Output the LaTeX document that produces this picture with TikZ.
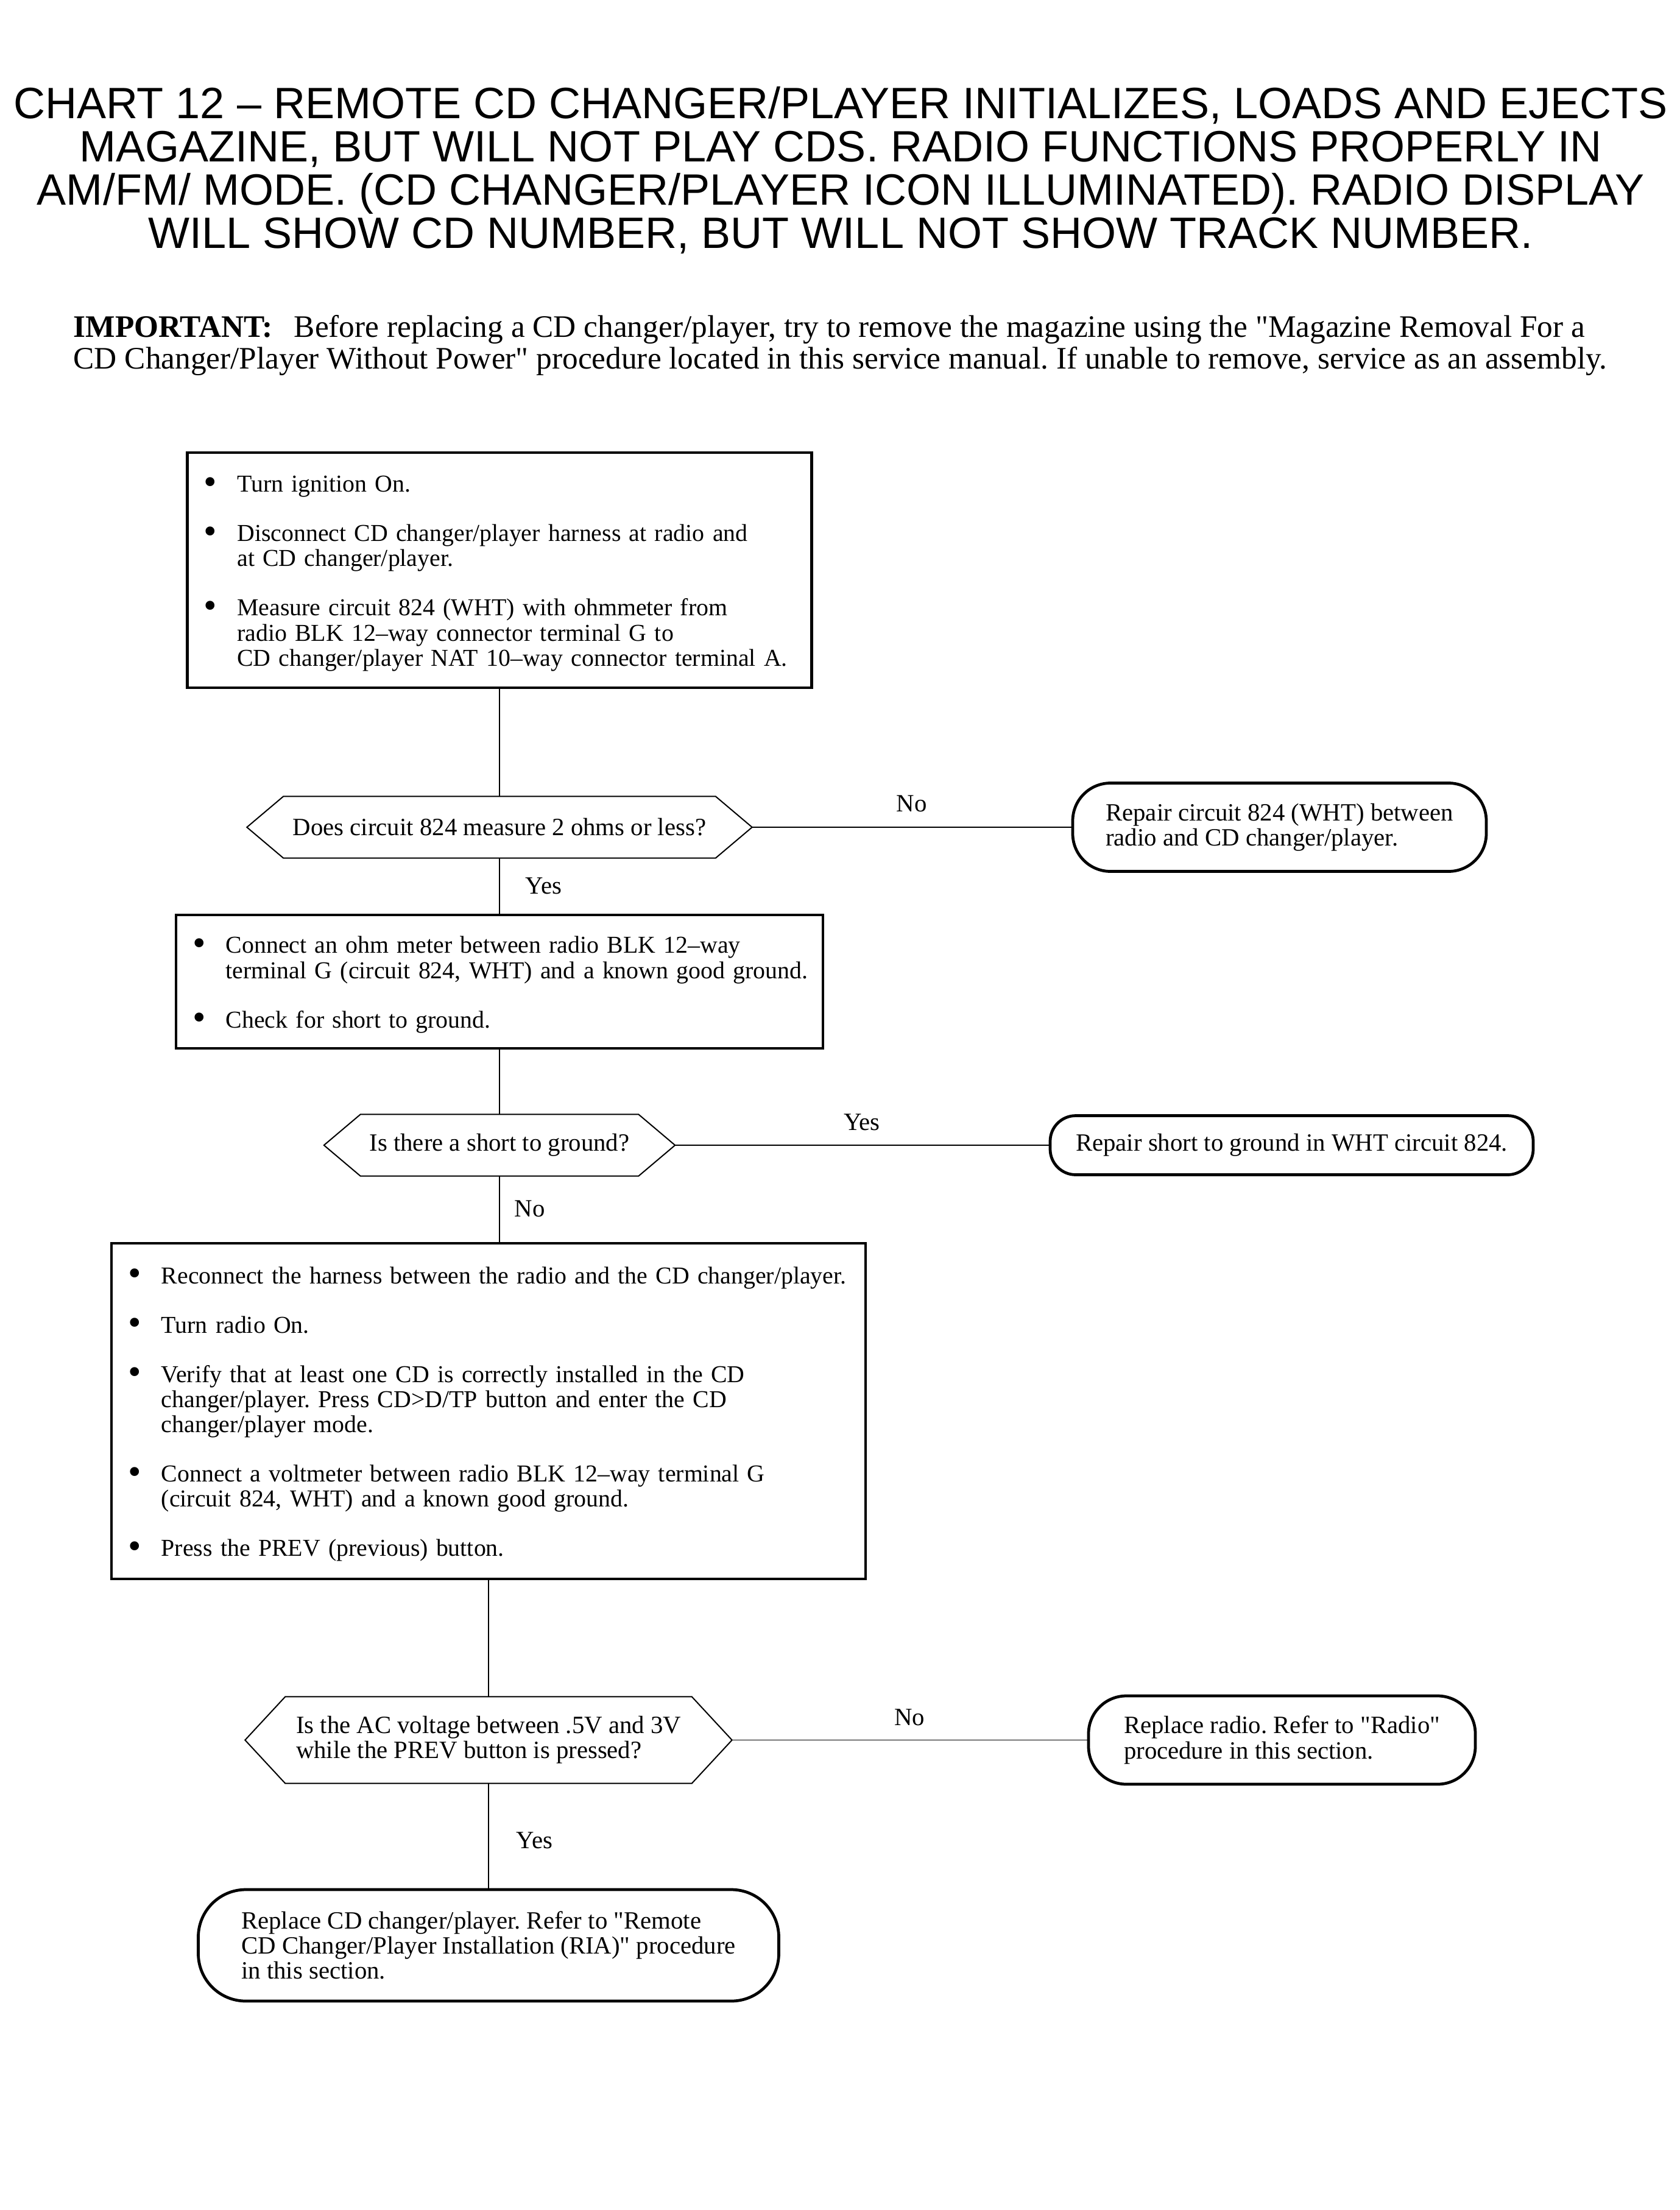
\documentclass[tikz,border=0pt]{standalone}
\usepackage{fontspec}
\setmainfont{Liberation Serif}
\newfontfamily\headfont{Liberation Sans}
\usetikzlibrary{positioning, calc}
\frenchspacing

\newlength{\bulletwd}
\setlength{\bulletwd}{15.6pt}
% one bullet point, lines split by hand
\newcommand{\bitem}[1]{\par\noindent\makebox[\bulletwd][l]{\raisebox{-1pt}{\fontsize{17.5pt}{17.5pt}\selectfont\textbullet}}%
  \begin{tabular}[t]{@{}l@{}}#1\end{tabular}\par}
\newcommand{\qq}{\textquotedbl}

\begin{document}
\begin{tikzpicture}[
    txt/.style={font=\fontsize{11.6pt}{11.75pt}\selectfont},
    stepbox/.style={font=\fontsize{11.33pt}{11.75pt}\selectfont, draw, line width=1.28pt,
      inner xsep=0.27cm, inner ysep=0pt, align=left,
      execute at begin node={\setlength{\parskip}{11.3pt}\setlength{\lineskip}{0pt}\vspace*{-\parskip}}},
    query/.style={txt, inner sep=0pt, align=left},
    endbox/.style={txt, draw, line width=1.35pt, inner sep=0pt, align=left},
    lbl/.style={txt, inner sep=0pt},
    link/.style={line width=0.45pt}
  ]
  \useasboundingbox (0,0) rectangle (27.58,-36.28);

  % heading
  \node[font=\headfont\fontsize{20.5pt}{20.2pt}\selectfont, align=center, inner sep=0pt, anchor=north]
    (title) at (13.80,-1.42) {CHART 12 – REMOTE CD CHANGER/PLAYER INITIALIZES, LOADS AND EJECTS\\
    MAGAZINE, BUT WILL NOT PLAY CDS. RADIO FUNCTIONS PROPERLY IN\\
    AM/FM/ MODE. (CD CHANGER/PLAYER ICON ILLUMINATED). RADIO DISPLAY\\
    WILL SHOW CD NUMBER, BUT WILL NOT SHOW TRACK NUMBER.};
  \node[font=\fontsize{14.6pt}{14.8pt}\selectfont, align=left, inner sep=0pt, anchor=north west]
    (note) at (1.20,-5.17) {\textbf{IMPORTANT:}\hspace{10pt}Before replacing a CD changer/player, try to remove the magazine using the \qq Magazine Removal For a\\
    CD Changer/Player Without Power\qq{} procedure located in this service manual. If unable to remove, service as an assembly.};

  % steps
  \node[stepbox, text width=9.71cm, minimum height=3.86cm] (chk1) at (8.20,-9.36) {%
    \bitem{Turn ignition On.}
    \bitem{Disconnect CD changer/player harness at radio and\\at CD changer/player.}
    \bitem{Measure circuit 824 (WHT) with ohmmeter from\\radio BLK 12–way connector terminal G to\\CD changer/player NAT 10–way connector terminal A.}};
  \node[stepbox, text width=10.08cm, minimum height=2.19cm] (chk2) at (8.20,-16.115) {%
    \bitem{Connect an ohm meter between radio BLK 12–way\\terminal G (circuit 824, WHT) and a known good ground.}
    \bitem{Check for short to ground.}};
  \node[stepbox, text width=11.84cm, minimum height=5.51cm] (chk3) at (8.02,-23.165) {%
    \bitem{Reconnect the harness between the radio and the CD changer/player.}
    \bitem{Turn radio On.}
    \bitem{Verify that at least one CD is correctly installed in the CD\\changer/player. Press CD>D/TP button and enter the CD\\changer/player mode.}
    \bitem{Connect a voltmeter between radio BLK 12–way terminal G\\(circuit 824, WHT) and a known good ground.}
    \bitem{Press the PREV (previous) button.}};

  % questions
  \node[query, minimum width=8.28cm, minimum height=1.00cm] (dec1) at (8.20,-13.58) {Does circuit 824 measure 2 ohms or less?};
  \node[query, minimum width=5.75cm, minimum height=1.00cm] (dec2) at (8.20,-18.80) {Is there a short to ground?};
  \node[query, minimum width=7.98cm, minimum height=1.41cm] (dec3) at (8.02,-28.565) {Is the AC voltage between .5V and 3V\\while the PREV button is pressed?};
  \foreach \n/\d in {dec1/0.6cm, dec2/0.6cm, dec3/0.66cm}
    \draw[line width=0.57pt] (\n.west) -- ([xshift=\d]\n.north west) -- ([xshift=-\d]\n.north east)
      -- (\n.east) -- ([xshift=-\d]\n.south east) -- ([xshift=\d]\n.south west) -- cycle;

  % outcomes
  \node[endbox, minimum width=6.79cm, minimum height=1.45cm, rounded corners=0.62cm] (fix1) at (21.005,-13.58) {Repair circuit 824 (WHT) between\\radio and CD changer/player.};
  \node[endbox, minimum width=7.93cm, minimum height=0.97cm, rounded corners=0.42cm] (fix2) at (21.205,-18.80) {Repair short to ground in WHT circuit 824.};
  \node[endbox, minimum width=6.35cm, minimum height=1.45cm, rounded corners=0.62cm] (fix3) at (21.045,-28.565) {Replace radio. Refer to \qq Radio\qq\\procedure in this section.};
  \node[endbox, minimum width=9.53cm, minimum height=1.83cm, rounded corners=0.78cm] (fix4) at (8.02,-31.935) {Replace CD changer/player. Refer to \qq Remote\\CD Changer/Player Installation (RIA)\qq{} procedure\\in this section.};

  % connectors
  \draw[link] (chk1.south) -- (dec1.north);
  \draw[link] (dec1.south) -- node[lbl, right=0.42cm] (y1) {Yes} (chk2.north);
  \draw[link] (dec1.east) -- node[lbl, above=0.24cm] (n1) {No} (fix1.west);
  \draw[link] (chk2.south) -- (dec2.north);
  \draw[link] (dec2.east) -- node[lbl, above=0.23cm] (y2) {Yes} (fix2.west);
  \draw[link] (dec2.south) -- node[lbl, right=0.24cm] (n2) {No} (dec2.south |- chk3.north);
  \draw[link] (chk3.south) -- (dec3.north);
  \draw[link] (dec3.east) -- node[lbl, above=0.23cm] (n3) {No} (fix3.west);
  \draw[link] (dec3.south) -- node[lbl, right=0.45cm, yshift=-0.08cm] (y3) {Yes} (fix4.north);
\end{tikzpicture}
\end{document}
